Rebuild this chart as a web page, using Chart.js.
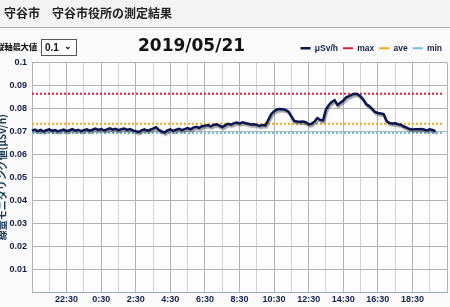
<!DOCTYPE html>
<html lang="ja">
<head>
    <meta charset="UTF-8">
    <title>守谷市 守谷市役所の測定結果</title>
    <script src="https://cdn.jsdelivr.net/npm/chart.js"></script>
    <style>
        body { margin: 0; width: 450px; height: 307px; overflow: hidden; background: #fafafa; position: relative; font-family: "Noto Sans CJK JP", sans-serif; }
        .topo { position: absolute; left: 0; top: 0; width: 450px; height: 27px; background: #f3f3f3; border-bottom: 1px solid #a8a8a8; }
        .topo h1 { margin: 0; position: absolute; left: 4px; top: 5px; font-size: 12px; line-height: 16px; font-weight: bold; color: #222; white-space: pre; }
        .eixo { position: absolute; left: -4px; top: 39px; font-size: 8.5px; line-height: 14px; font-weight: bold; color: #111; letter-spacing: -0.3px; }
        .caixa { position: absolute; left: 41px; top: 39px; width: 34px; height: 15px; border: 1px solid #555; background: #fff; font: bold 10px "Liberation Sans", sans-serif; color: #111; }
        .caixa span { position: absolute; left: 3px; top: 2px; }
        .caixa i { position: absolute; right: 4px; top: 1px; font-style: normal; font-size: 9px; }
        .data { position: absolute; left: 138px; top: 35px; font: bold 17px "DejaVu Sans", sans-serif; color: #111; }
        #grafico { position: absolute; left: -4px; top: 0; width: 454px; height: 307px; }
    </style>
</head>
<body>
    <div id="grafico"><canvas id="canvasGrafico"></canvas></div>

    <div class="topo"><h1>守谷市　守谷市役所の測定結果</h1></div>
    <div class="eixo">縦軸最大値</div>
    <div class="caixa"><span>0.1</span><i>⌄</i></div>
    <div class="data">2019/05/21</div>

    <script>
        // dados em intervalos de 10 minutos a partir de 20:30
        const inicioMin = 20 * 60 + 30;
        const passoMin = 10;
        const totalPassos = 144;

        const doseHora = [
            0.0703, 0.0708, 0.0701, 0.0706, 0.0700, 0.0705, 0.0709, 0.0702, 0.0706, 0.0700,
            0.0704, 0.0708, 0.0701, 0.0705, 0.0710, 0.0703, 0.0707, 0.0701, 0.0705, 0.0709,
            0.0703, 0.0707, 0.0712, 0.0706, 0.0710, 0.0704, 0.0708, 0.0713, 0.0707, 0.0711,
            0.0705, 0.0709, 0.0712, 0.0706, 0.0710, 0.0704, 0.0701, 0.0697, 0.0704, 0.0709,
            0.0703, 0.0707, 0.0712, 0.0718, 0.0706, 0.0700, 0.0695, 0.0704, 0.0709, 0.0702,
            0.0707, 0.0711, 0.0705, 0.0710, 0.0714, 0.0709, 0.0716, 0.0720, 0.0715, 0.0722,
            0.0724, 0.0727, 0.0722, 0.0728, 0.0731, 0.0725, 0.0719, 0.0726, 0.0733, 0.0729,
            0.0735, 0.0738, 0.0734, 0.0739, 0.0736, 0.0733, 0.0730, 0.0731, 0.0728, 0.0724,
            0.0728, 0.0726, 0.0750, 0.0775, 0.0788, 0.0795, 0.0797, 0.0796, 0.0793, 0.0786,
            0.0765, 0.0745, 0.0743, 0.0742, 0.0743, 0.0740, 0.0730, 0.0733, 0.0742, 0.0758,
            0.0750, 0.0748, 0.0795, 0.0815, 0.0828, 0.0836, 0.0815, 0.0825, 0.0834, 0.0848,
            0.0853, 0.0860, 0.0864, 0.0862, 0.0852, 0.0838, 0.0818, 0.0810, 0.0798, 0.0785,
            0.0780, 0.0778, 0.0775, 0.0745, 0.0737, 0.0734, 0.0735, 0.0731, 0.0729, 0.0721,
            0.0716, 0.0710, 0.0708, 0.0709, 0.0709, 0.0710, 0.0708, 0.0704, 0.0709, 0.0706,
            0.0701
        ];

        const valorMax = 0.0864;
        const valorAve = 0.0733;
        const valorMin = 0.0693;

        const yMin = 0;
        const yMax = 0.1;
        const yPasso = 0.005;

        // rótulos de horário (20:30, 20:40, ...)
        const horarios = [];
        for (let i = 0; i <= totalPassos; i++) {
            const m = (inicioMin + i * passoMin) % 1440;
            horarios.push(Math.floor(m / 60) + ':' + String(m % 60).padStart(2, '0'));
        }

        function linhaConstante(v) {
            return horarios.slice(0, totalPassos).map(() => v);
        }

        // fundo da área do gráfico
        const fundo = {
            id: 'fundo',
            beforeDraw(chart) {
                const a = chart.chartArea;
                chart.ctx.save();
                chart.ctx.fillStyle = '#fdfdfd';
                chart.ctx.fillRect(a.left, a.top, a.right - a.left, a.bottom - a.top);
                chart.ctx.restore();
            }
        };

        // sombra cinza sob a linha principal
        const sombra = {
            id: 'sombra',
            beforeDatasetDraw(chart, args) {
                if (args.index !== 0) return;
                const c = chart.ctx;
                c.save();
                c.shadowColor = 'rgba(70,70,70,0.5)';
                c.shadowOffsetX = 1;
                c.shadowOffsetY = 2;
                c.shadowBlur = 1;
            },
            afterDatasetDraw(chart, args) {
                if (args.index === 0) chart.ctx.restore();
            }
        };

        const corTexto = '#14204a';

        const config = {
            type: 'line',
            data: {
                labels: horarios,
                datasets: [
                    { label: 'μSv/h', data: doseHora, borderColor: '#0b1550', backgroundColor: '#0b1550', borderWidth: 2.5, pointRadius: 0, tension: 0 },
                    { label: 'max', data: linhaConstante(valorMax), borderColor: '#d8203c', backgroundColor: '#d8203c', borderWidth: 2, borderDash: [2, 2], pointRadius: 0 },
                    { label: 'ave', data: linhaConstante(valorAve), borderColor: '#f0a818', backgroundColor: '#f0a818', borderWidth: 2, borderDash: [2, 2], pointRadius: 0 },
                    { label: 'min', data: linhaConstante(valorMin), borderColor: '#6cc0e4', backgroundColor: '#6cc0e4', borderWidth: 2, borderDash: [2, 2], pointRadius: 0 }
                ]
            },
            options: {
                responsive: true,
                maintainAspectRatio: false,
                animation: false,
                events: [],
                layout: { padding: { top: 39, right: 3, left: 0, bottom: 0 } },
                plugins: {
                    tooltip: { enabled: false },
                    legend: {
                        position: 'top',
                        align: 'end',
                        labels: {
                            usePointStyle: true,
                            pointStyle: 'line',
                            pointStyleWidth: 10,
                            boxHeight: 8,
                            padding: 5,
                            color: corTexto,
                            font: { family: 'Liberation Sans', size: 8.5, weight: 'bold' }
                        }
                    }
                },
                scales: {
                    x: {
                        type: 'category',
                        offset: false,
                        afterFit: s => { s.height = 15; },
                        grid: {
                            drawTicks: false,
                            color: c => c.index % 12 === 0 ? '#b2b2b2' : (c.index % 6 === 0 ? '#d4d4d4' : 'rgba(0,0,0,0)')
                        },
                        border: { color: '#9aaabb' },
                        ticks: {
                            autoSkip: false,
                            maxRotation: 0,
                            padding: 2,
                            color: corTexto,
                            font: { family: 'Liberation Sans', size: 9, weight: 'bold' },
                            callback: function (v, i) {
                                return (i % 12 === 0 && i > 0 && i < totalPassos) ? horarios[i] : '';
                            }
                        }
                    },
                    y: {
                        min: yMin,
                        max: yMax,
                        afterFit: s => { s.width = 36; },
                        grid: {
                            drawTicks: false,
                            color: c => Math.round(c.tick.value * 1000) % 10 === 0 ? '#b2b2b2' : '#d8d8d8'
                        },
                        border: { color: '#b2b2b2' },
                        ticks: {
                            stepSize: yPasso,
                            padding: 5,
                            color: corTexto,
                            font: { family: 'Liberation Sans', size: 9, weight: 'bold' },
                            callback: v => (Math.round(v * 1000) % 10 === 0 && v > 0) ? String(+v.toFixed(2)) : ''
                        },
                        title: {
                            display: true,
                            text: '線量モニタリング値(μSv/h)',
                            color: '#1c3d5a',
                            padding: { top: 0, bottom: 0 },
                            font: { family: 'Noto Sans CJK JP', size: 10, weight: 'bold' }
                        }
                    }
                }
            },
            plugins: [fundo, sombra]
        };

        new Chart(document.getElementById('canvasGrafico').getContext('2d'), config);
    </script>
</body>
</html>
